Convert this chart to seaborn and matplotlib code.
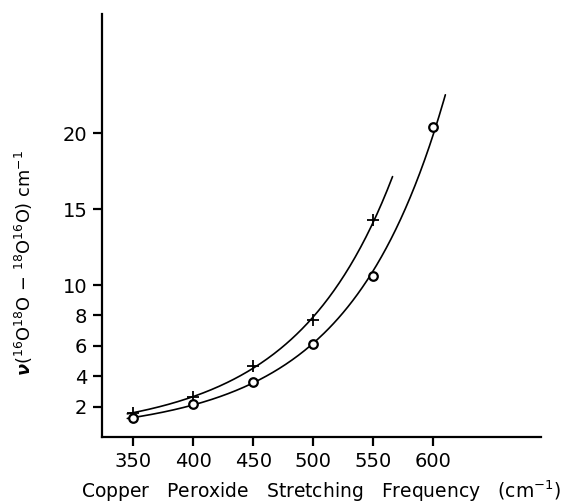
import numpy as np
import pandas as pd
import matplotlib
matplotlib.use("Agg")
import matplotlib.pyplot as plt
import seaborn as sns

# Data
freq_cross = [350, 400, 450, 500, 550]
shift_cross = [1.6, 2.65, 4.65, 7.7, 14.3]
freq_circle = [350, 400, 450, 500, 550, 600]
shift_circle = [1.25, 2.2, 3.6, 6.1, 10.6, 20.4]
curve_cross_range = [345, 566]
curve_circle_range = [345, 610]
xticks = [350, 400, 450, 500, 550, 600]
yticks = [2, 4, 6, 8, 10, 15, 20]

sns.set_theme(style="ticks")
plt.rcParams['font.family'] = ['DejaVu Sans']
plt.rcParams['mathtext.fontset'] = 'dejavusans'
plt.rcParams['mathtext.default'] = 'regular'

fig = plt.figure(figsize=(5.79, 5.03), dpi=100)
ax = fig.add_axes([102/579, 66/503, (541-102)/579, (437-14)/503])


def fit_curve(xs, ys, rng):
    coef = np.polyfit(xs, np.log(ys), 2)
    xx = np.linspace(rng[0], rng[1], 200)
    return pd.DataFrame({"x": xx, "y": np.exp(np.polyval(coef, xx))})

c1 = fit_curve(freq_cross, shift_cross, curve_cross_range)
c2 = fit_curve(freq_circle, shift_circle, curve_circle_range)
sns.lineplot(data=c1, x="x", y="y", ax=ax, color="black", linewidth=1.2, sort=False)
sns.lineplot(data=c2, x="x", y="y", ax=ax, color="black", linewidth=1.2, sort=False)

sns.scatterplot(x=freq_cross, y=shift_cross, ax=ax, marker="+", s=70,
                color="black", linewidth=1.3, zorder=5)
sns.scatterplot(x=freq_circle, y=shift_circle, ax=ax, marker="o", s=38,
                facecolor="white", edgecolor="black", linewidth=1.6, zorder=5)

ax.set_xlim(323.9, 689.7)
ax.set_ylim(0, 27.85)
ax.set_xticks(xticks)
ax.set_yticks(yticks)
ax.set_xticklabels([str(v) for v in xticks])
ax.set_yticklabels([str(v) for v in yticks])
for side in ["top", "right"]:
    ax.spines[side].set_visible(False)
for side in ["left", "bottom"]:
    ax.spines[side].set_linewidth(1.6)
    ax.spines[side].set_color("black")
ax.tick_params(axis="both", direction="out", length=6.5, width=1.6,
               colors="black", labelsize=14, pad=4)

ax.set_xlabel(r"Copper   Peroxide   Stretching   Frequency   (cm$^{-1}$)",
              fontsize=13.5, color="black")
ax.xaxis.set_label_coords(0.5, -0.098)
ax.set_ylabel(r"$\boldsymbol{\nu}$(${}^{16}$O${}^{18}$O $-$ ${}^{18}$O${}^{16}$O) cm$^{-1}$",
              fontsize=12.8, color="black")
ax.yaxis.set_label_coords(-0.153, 0.411)

fig.savefig("out.png", dpi=100, facecolor="white")
